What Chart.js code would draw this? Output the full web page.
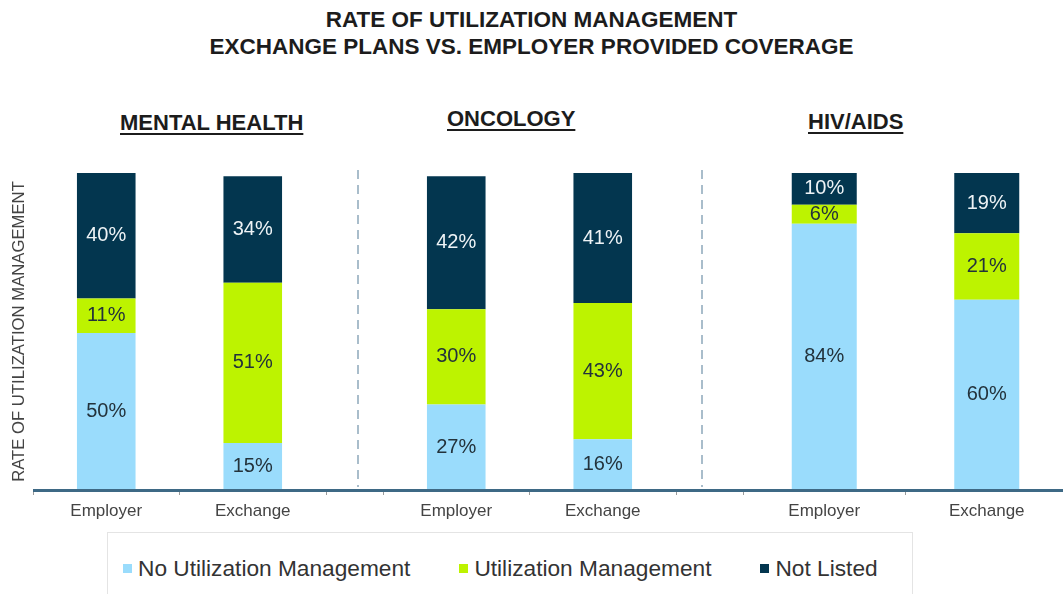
<!DOCTYPE html>
<html>
<head>
<meta charset="utf-8">
<script src="https://cdn.jsdelivr.net/npm/chart.js@4.4.1/dist/chart.umd.min.js"></script>
<style>
    body { margin: 0; background: #fff; }
    #wrap { position: relative; width: 1063px; height: 594px; overflow: hidden; font-family: 'Liberation Sans', Arial, sans-serif; }
    .titulo { position: absolute; left: 0; top: 6px; width: 1063px; text-align: center; font-weight: bold; font-size: 22.5px; line-height: 27px; color: #1c1c1c; }
    .grupo { position: absolute; font-weight: bold; font-size: 22px; line-height: 26px; color: #1c1c1c; white-space: nowrap;
             text-decoration: underline; text-decoration-thickness: 2px; text-underline-offset: 3px; }
    canvas { position: absolute; top: 140px; }
    #leyenda { position: absolute; left: 107px; top: 532px; width: 806px; height: 90px; box-sizing: border-box;
               border: 1px solid #e4e4e4; display: flex; align-items: flex-start; gap: 49px; padding: 22px 0 0 15px;
               font-size: 22.7px; line-height: 26px; color: #333; }
    #leyenda span.item { display: flex; align-items: center; white-space: nowrap; }
    #leyenda span.cuadro { width: 9px; height: 9px; margin-right: 6px; }
</style>
</head>
<body>
<div id="wrap">
    <div class="titulo">RATE OF UTILIZATION MANAGEMENT<br>EXCHANGE PLANS VS. EMPLOYER PROVIDED COVERAGE</div>
    <div class="grupo" id="g0" style="left:120px; top:110px;"></div>
    <div class="grupo" id="g1" style="left:447px; top:106px;"></div>
    <div class="grupo" id="g2" style="left:808px; top:109px;"></div>
    <canvas id="c0" width="357" height="390" style="left:0px;"></canvas>
    <canvas id="c1" width="344" height="390" style="left:357px;"></canvas>
    <canvas id="c2" width="367" height="390" style="left:701px;"></canvas>
    <div id="leyenda"></div>
</div>
<script>
const grupos = ['MENTAL HEALTH', 'ONCOLOGY', 'HIV/AIDS'];
const planes = ['Employer', 'Exchange'];
const series = ['No Utilization Management', 'Utilization Management', 'Not Listed'];

// porcentajes por grupo: [Employer, Exchange]
const sinGestion = [[50, 15], [27, 16], [84, 60]];
const conGestion = [[11, 51], [30, 43], [6, 21]];
const noListado = [[40, 34], [42, 41], [10, 19]];

const valores = [sinGestion, conGestion, noListado];
const colores = ['#9adcfc', '#bdf300', '#03364f'];
const coloresTexto = ['#23323b', '#23323b', '#eef3f6'];

// numeros dentro de cada segmento
const etiquetas = {
    id: 'etiquetas',
    afterDatasetsDraw(chart) {
        const ctx = chart.ctx;
        ctx.save();
        ctx.font = '20px "Liberation Sans", Arial, sans-serif';
        ctx.textAlign = 'center';
        ctx.textBaseline = 'middle';
        chart.data.datasets.forEach((ds, i) => {
            ctx.fillStyle = coloresTexto[i];
            chart.getDatasetMeta(i).data.forEach((bar, j) => {
                ctx.fillText(ds.data[j] + '%', bar.x, (bar.y + bar.base) / 2);
            });
        });
        ctx.restore();
    }
};

// linea del eje y separador punteado
const lineaBase = {
    id: 'lineaBase',
    afterDatasetsDraw(chart, args, opts) {
        const { ctx, chartArea } = chart;
        ctx.save();
        ctx.strokeStyle = '#3e6985';
        ctx.lineWidth = 3;
        ctx.beginPath();
        ctx.moveTo(opts.desdeArea ? chartArea.left : 0, chartArea.bottom + 0.5);
        ctx.lineTo(chart.width, chartArea.bottom + 0.5);
        ctx.stroke();
        if (opts.separador) {
            ctx.strokeStyle = '#a9bdcb';
            ctx.lineWidth = 2;
            ctx.setLineDash([9, 6]);
            ctx.beginPath();
            ctx.moveTo(1, chartArea.top - 3);
            ctx.lineTo(1, chartArea.bottom - 3);
            ctx.stroke();
        }
        ctx.restore();
    }
};

function crearPanel(g, padding, conEje) {
    const tope = Math.max(...planes.map((p, j) => valores.reduce((s, v) => s + v[g][j], 0)));
    document.getElementById('g' + g).textContent = grupos[g];

    const ejeY = {
        stacked: true,
        min: 0,
        max: tope,
        display: conEje,
        ticks: { display: false },
        grid: { display: false },
        border: { display: false }
    };
    if (conEje) {
        ejeY.title = {
            display: true,
            text: 'RATE OF UTILIZATION MANAGEMENT',
            color: '#444',
            font: { size: 16.7, family: '"Liberation Sans", Arial' },
            padding: { top: 9, bottom: 0 }
        };
        ejeY.afterFit = s => { s.width = 33; };
    }

    return new Chart(document.getElementById('c' + g), {
        type: 'bar',
        data: {
            labels: planes,
            datasets: series.map((nombre, s) => ({
                label: nombre,
                data: valores[s][g],
                backgroundColor: colores[s],
                barPercentage: 0.4,
                categoryPercentage: 1
            }))
        },
        options: {
            responsive: false,
            animation: false,
            layout: { padding: padding },
            plugins: {
                legend: { display: false },
                tooltip: { enabled: false },
                lineaBase: { desdeArea: g === 0, separador: g > 0 }
            },
            scales: {
                x: {
                    stacked: true,
                    grid: { drawOnChartArea: false, tickLength: 5, color: '#9a9a9a' },
                    border: { display: false },
                    ticks: { color: '#444', font: { size: 17, family: '"Liberation Sans", Arial' }, padding: 6 },
                    afterFit: s => { s.height = 40; }
                },
                y: ejeY
            }
        },
        plugins: [etiquetas, lineaBase]
    });
}

crearPanel(0, { top: 33, left: 0, right: 31, bottom: 0 }, true);
crearPanel(1, { top: 33, left: 26, right: 25, bottom: 0 }, false);
crearPanel(2, { top: 33, left: 42, right: 0, bottom: 0 }, false);

// leyenda comun a los tres paneles
const leyenda = document.getElementById('leyenda');
series.forEach((nombre, s) => {
    const item = document.createElement('span');
    item.className = 'item';
    const cuadro = document.createElement('span');
    cuadro.className = 'cuadro';
    cuadro.style.background = colores[s];
    item.appendChild(cuadro);
    item.appendChild(document.createTextNode(nombre));
    leyenda.appendChild(item);
});
</script>
</body>
</html>
